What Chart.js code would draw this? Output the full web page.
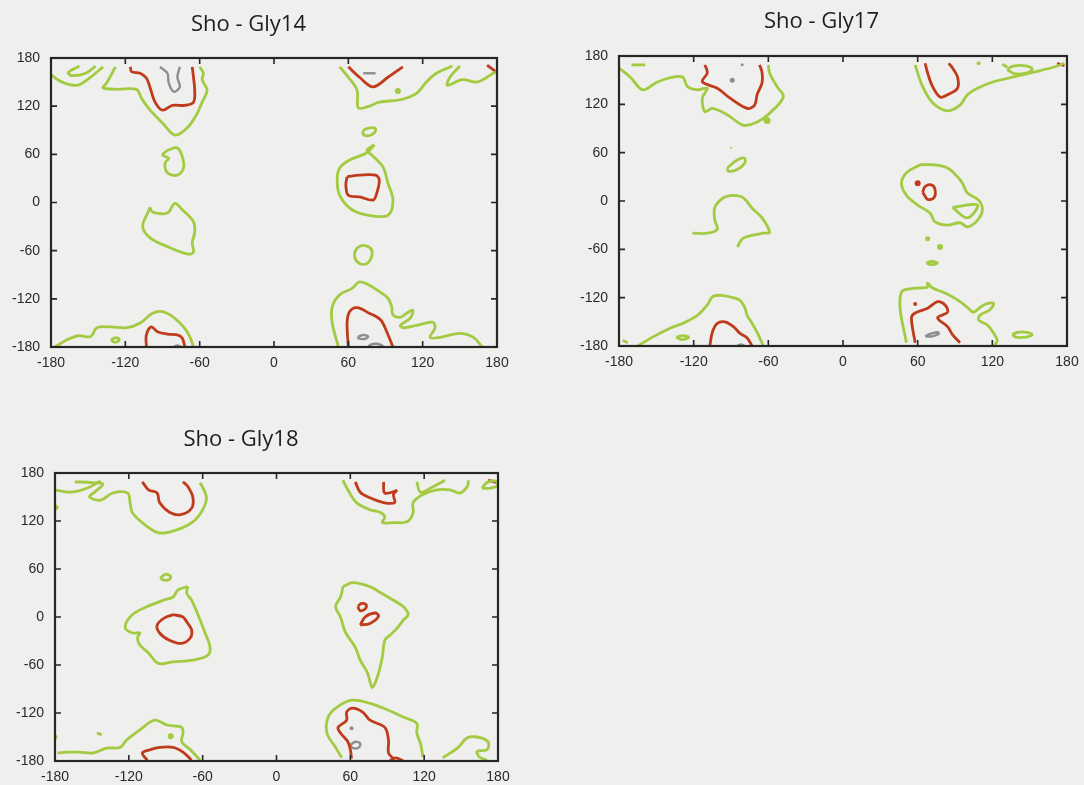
<!DOCTYPE html>
<html>
<head>
<meta charset="utf-8">
<script src="https://cdn.jsdelivr.net/npm/chart.js@4.4.1/dist/chart.umd.min.js"></script>
<style>
  body { margin: 0; background: #efefed; width: 1084px; height: 785px; overflow: hidden; position: relative; }
  canvas { position: absolute; }
</style>
</head>
<body>
<canvas id="c14" width="528" height="380" style="left:0;top:0"></canvas>
<canvas id="c17" width="508" height="380" style="left:576px;top:0"></canvas>
<canvas id="c18" width="532" height="380" style="left:-16px;top:415px"></canvas>
<script>
// axis ticks (phi / psi in degrees)
const tickValues = [-180, -120, -60, 0, 60, 120, 180];

// ---- Sho - Gly14 contours: [phi, psi] ----
const gly14Green = [
  [[-180,159],[-171,150],[-159,146],[-149,155],[-138,169]],
  [[-157,170],[-166,162],[-163,158],[-152,161],[-144,170]],
  [[-128,169],[-135,149],[-138,143],[-127,141],[-111,141],[-107,130],[-100,115],[-90,99],[-80,84],[-70,93],[-62,111],[-58,125],[-54,140],[-58,153],[-57,161],[-60,169]],
  [[-86,65],[-78,68],[-74,57],[-73,43],[-78,34],[-86,37],[-88,49],[-85,55],[-90,59],[-86,65]],
  [[-100,-6],[-98,-12],[-86,-13],[-80,-1],[-74,-9],[-65,-24],[-64,-37],[-66,-50],[-65,-62],[-70,-64],[-86,-55],[-100,-44],[-106,-30],[-102,-13],[-100,-6]],
  [[-177,-180],[-167,-171],[-158,-166],[-148,-167],[-143,-156],[-132,-155],[-119,-156],[-108,-150],[-98,-138],[-90,-136],[-81,-143],[-73,-155],[-68,-167],[-65,-180]],
  [[-128,-168],[-125,-170],[-126,-173],[-129,-174],[-131,-171],[-128,-168]],
  [[53,169],[60,156],[67,140],[68,118],[75,119],[85,125],[102,128],[115,136],[123,150],[131,161],[144,170]],
  [[150,170],[142,156],[140,146],[152,153],[164,150],[172,156],[177,161],[180,163]],
  [[72,90],[77,93],[82,92],[81,87],[76,83],[72,85],[72,90]],
  [[81,72],[75,62],[61,53],[53,43],[51,28],[53,9],[63,-9],[77,-16],[92,-16],[96,3],[92,24],[88,44],[79,59],[75,65],[81,72]],
  [[72,-53],[78,-57],[79,-66],[75,-76],[69,-76],[65,-67],[67,-57],[72,-53]],
  [[52,-180],[47,-150],[47,-130],[53,-115],[63,-107],[69,-99],[77,-103],[86,-112],[92,-119],[95,-130],[96,-140],[102,-143],[107,-138],[112,-134],[110,-144],[102,-153],[104,-156],[115,-153],[128,-149],[130,-156],[126,-168],[134,-168],[150,-163],[161,-168],[168,-180]]
];
const gly14Red = [
  [[-116,169],[-115,163],[-108,161],[-103,155],[-100,143],[-96,125],[-90,115],[-82,121],[-72,121],[-65,125],[-64,140],[-65,156],[-66,169]],
  [[-103,-180],[-103,-165],[-99,-155],[-94,-161],[-86,-164],[-78,-165],[-74,-169],[-72,-180]],
  [[60,169],[69,156],[80,144],[92,156],[104,169]],
  [[172,171],[179,163]],
  [[59,32],[69,34],[82,34],[85,28],[83,12],[80,3],[69,7],[60,9],[58,22],[59,32]],
  [[60,-180],[59,-150],[61,-136],[67,-131],[77,-138],[86,-146],[91,-161],[96,-180]]
];
const gly14Gray = [
  [[-92,169],[-86,161],[-85,149],[-81,138],[-76,144],[-78,156],[-76,169]],
  [[72,161],[82,161]],
  [[-81,-180],[-78,-178],[-75,-180]],
  [[68,-167],[72,-165],[76,-167],[73,-170],[68,-169],[68,-167]],
  [[76,-180],[78,-177],[83,-176],[87,-178],[88,-180]]
];
const gly14Dots = [
  { color: 'green', r: 3, at: [100, 139] }
];

// ---- Sho - Gly17 contours ----
const gly17Green = [
  [[-170,169],[-159,169]],
  [[-180,165],[-171,154],[-161,138],[-150,147],[-139,153],[-129,154],[-125,142],[-117,138],[-109,140],[-113,128],[-111,111],[-105,115],[-93,107],[-80,94],[-69,98],[-59,109],[-48,129],[-53,142],[-59,159],[-60,169]],
  [[-93,41],[-85,51],[-79,53],[-79,47],[-85,39],[-92,37],[-93,41]],
  [[-85,-57],[-80,-46],[-64,-40],[-59,-39],[-65,-21],[-73,-9],[-80,4],[-88,7],[-96,4],[-103,-8],[-103,-24],[-101,-35],[-109,-40],[-121,-40]],
  [[-177,-173],[-173,-176]],
  [[-165,-180],[-153,-169],[-139,-158],[-129,-152],[-117,-142],[-109,-129],[-105,-119],[-99,-117],[-91,-119],[-83,-123],[-79,-132],[-77,-142],[-73,-152],[-69,-163],[-64,-180]],
  [[-134,-169],[-129,-167],[-124,-169],[-129,-172],[-134,-169]],
  [[58,169],[60,159],[64,142],[72,122],[84,112],[94,119],[100,132],[108,140],[121,148],[137,154],[153,160],[169,166],[178,171]],
  [[132,163],[136,167],[145,168],[152,164],[148,159],[138,158],[132,163]],
  [[128,170],[132,166]],
  [[62,45],[51,35],[47,22],[51,7],[60,-5],[70,-15],[74,-26],[84,-30],[94,-27],[100,-32],[108,-24],[112,-11],[109,1],[100,10],[96,22],[92,30],[84,41],[72,45],[62,45]],
  [[88,-8],[108,-5],[100,-21],[88,-8]],
  [[67,-77],[71,-75],[76,-77],[71,-79],[67,-77]],
  [[51,-176],[46,-135],[47,-113],[54,-109],[62,-108],[68,-107],[68,-102],[72,-108],[80,-113],[88,-119],[96,-127],[102,-135],[105,-138],[113,-129],[121,-127],[118,-135],[110,-142],[109,-148],[116,-154],[121,-164],[124,-173],[122,-179]],
  [[136,-166],[140,-163],[148,-163],[152,-166],[147,-169],[139,-169],[136,-166]]
];
const gly17Red = [
  [[-111,169],[-109,159],[-113,148],[-101,140],[-91,128],[-77,115],[-71,119],[-69,132],[-65,147],[-65,159],[-67,169]],
  [[-107,-180],[-105,-163],[-101,-152],[-95,-150],[-88,-156],[-83,-164],[-77,-170],[-73,-180]],
  [[66,171],[68,159],[72,142],[78,129],[84,132],[92,140],[92,154],[88,165],[85,171]],
  [[172,171],[178,168]],
  [[64,11],[66,18],[71,20],[74,14],[73,4],[68,2],[64,11]],
  [[58,-176],[55,-145],[58,-139],[68,-133],[76,-125],[82,-129],[84,-138],[76,-145],[84,-156],[88,-166],[94,-176]]
];
const gly17Gray = [
  [[66,-168],[70,-165],[76,-163],[77,-165],[72,-168],[66,-168]],
  [[-85,-180],[-82,-178],[-79,-180]]
];
const gly17Dots = [
  { color: 'green', r: 3.5, at: [-61, 100] },
  { color: 'green', r: 1, at: [-90, 66] },
  { color: 'gray', r: 2.5, at: [-89, 150] },
  { color: 'gray', r: 1.5, at: [-81, 169] },
  { color: 'green', r: 2, at: [109, 171] },
  { color: 'green', r: 2.5, at: [68, -47] },
  { color: 'green', r: 3, at: [78, -57] },
  { color: 'red', r: 3, at: [60, 22] },
  { color: 'red', r: 2, at: [58, -128] }
];

// ---- Sho - Gly18 contours ----
const gly18Green = [
  [[-180,159],[-168,156],[-154,161],[-143,170]],
  [[-164,169],[-150,168],[-141,166],[-148,156],[-152,150],[-143,146],[-133,155],[-121,155],[-119,143],[-117,130],[-105,113],[-95,105],[-81,109],[-68,119],[-60,134],[-57,150],[-62,168]],
  [[-180,140],[-178,137],[-180,134]],
  [[-90,54],[-86,51],[-87,47],[-91,46],[-94,49],[-90,54]],
  [[-72,38],[-80,34],[-84,25],[-92,21],[-105,13],[-117,3],[-123,-13],[-117,-20],[-111,-20],[-113,-26],[-111,-35],[-104,-45],[-96,-58],[-84,-56],[-68,-54],[-56,-48],[-54,-38],[-58,-20],[-62,-4],[-69,21],[-73,30],[-72,38]],
  [[-178,-170],[-170,-169],[-160,-169],[-149,-170],[-138,-164],[-127,-163],[-122,-154],[-111,-141],[-99,-129],[-89,-135],[-77,-138],[-76,-145],[-77,-156],[-70,-166],[-62,-179]],
  [[-146,-145],[-142,-147]],
  [[54,171],[58,159],[65,143],[76,134],[84,131],[88,125],[86,118],[95,118],[106,119],[111,130],[111,143],[119,153],[130,159],[141,159],[149,155],[155,163],[156,171]],
  [[114,169],[117,156],[125,161],[137,171]],
  [[167,161],[171,168],[178,170],[180,165],[174,161],[167,161]],
  [[54,38],[62,43],[76,38],[84,31],[95,21],[103,13],[107,3],[103,-4],[98,-14],[92,-23],[88,-29],[86,-50],[82,-75],[78,-88],[76,-81],[74,-70],[68,-54],[64,-38],[56,-19],[52,0],[48,13],[52,25],[54,38]],
  [[53,-176],[48,-163],[41,-145],[42,-125],[49,-113],[61,-104],[76,-108],[90,-116],[103,-125],[114,-133],[114,-145],[117,-158],[119,-175]],
  [[135,-176],[147,-164],[155,-151],[163,-150],[172,-156],[171,-166],[163,-168],[165,-175],[171,-179]]
];
const gly18Red = [
  [[-109,169],[-104,159],[-97,155],[-95,143],[-87,131],[-78,128],[-69,136],[-68,150],[-72,163],[-76,169]],
  [[-84,3],[-76,0],[-73,-6],[-69,-16],[-70,-26],[-77,-33],[-87,-29],[-95,-20],[-97,-10],[-91,-1],[-84,3]],
  [[-105,-179],[-109,-170],[-103,-166],[-95,-163],[-84,-163],[-76,-169],[-69,-179]],
  [[64,169],[68,156],[76,149],[87,143],[96,143],[95,153],[98,159]],
  [[87,169],[88,155],[98,158]],
  [[172,171],[179,168]],
  [[66,13],[69,17],[73,15],[72,10],[68,8],[66,13]],
  [[68,-10],[72,0],[80,5],[83,1],[76,-8],[68,-10]],
  [[61,-177],[60,-166],[58,-156],[52,-145],[50,-138],[57,-129],[57,-119],[62,-114],[70,-119],[76,-129],[88,-138],[91,-154],[91,-170],[95,-177]],
  [[92,-180],[97,-176],[103,-180]]
];
const gly18Gray = [
  [[60,-160],[64,-156],[68,-158],[67,-163],[62,-164],[60,-160]]
];
const gly18Dots = [
  { color: 'green', r: 2.5, at: [-180, -150] },
  { color: 'green', r: 3, at: [-86, -149] },
  { color: 'gray', r: 2, at: [61, -139] }
];

const COLORS = { green: '#a3cb42', red: '#c03a1c', gray: '#8e8e92' };

// frame box plus inward tick marks on all four sides
const framePlugin = {
  id: 'frame',
  afterDatasetsDraw(chart) {
    const { ctx, chartArea: a, scales: { x, y } } = chart;
    ctx.save();
    ctx.strokeStyle = '#262626';
    ctx.lineWidth = 2.2;
    ctx.strokeRect(a.left, a.top, a.right - a.left, a.bottom - a.top);
    ctx.lineWidth = 1.6;
    ctx.beginPath();
    tickValues.slice(1, -1).forEach(v => {
      const px = x.getPixelForValue(v);
      ctx.moveTo(px, a.bottom); ctx.lineTo(px, a.bottom - 6);
      ctx.moveTo(px, a.top); ctx.lineTo(px, a.top + 6);
      const py = y.getPixelForValue(v);
      ctx.moveTo(a.left, py); ctx.lineTo(a.left + 6, py);
      ctx.moveTo(a.right, py); ctx.lineTo(a.right - 6, py);
    });
    ctx.stroke();
    ctx.restore();
  }
};

function lineSet(lines, color) {
  return lines.map(pts => ({
    data: pts.map(([x, y]) => ({ x, y })),
    showLine: true,
    borderColor: COLORS[color],
    borderWidth: color === 'gray' ? 2.4 : 2.8,
    pointRadius: 0,
    tension: 0.35,
    fill: false
  }));
}

function dotSet(dots) {
  return dots.map(d => ({
    data: [{ x: d.at[0], y: d.at[1] }],
    showLine: false,
    pointRadius: d.r,
    pointBorderWidth: 0,
    backgroundColor: COLORS[d.color]
  }));
}

function makePanel(id, title, green, red, gray, dots, box) {
  const tickFont = { family: 'Liberation Sans', size: 14 };
  new Chart(document.getElementById(id), {
    type: 'scatter',
    data: {
      datasets: [
        ...lineSet(green, 'green'),
        ...lineSet(red, 'red'),
        ...lineSet(gray, 'gray'),
        ...dotSet(dots)
      ]
    },
    options: {
      responsive: false,
      animation: false,
      devicePixelRatio: 1,
      layout: { padding: { left: 0, right: box.padRight, top: 0, bottom: 0 } },
      plugins: {
        legend: { display: false },
        tooltip: { enabled: false },
        title: {
          display: true,
          text: title,
          color: '#1e1e1e',
          font: { family: 'Open Sans', size: 22, weight: 'normal', lineHeight: 1.2 },
          padding: { top: box.titleTop, bottom: box.titleBottom }
        }
      },
      scales: {
        x: {
          type: 'linear', min: -180, max: 180,
          ticks: { stepSize: 60, color: '#2a2a2a', font: tickFont, padding: 8, maxRotation: 0 },
          grid: { drawOnChartArea: false, drawTicks: false },
          border: { display: false },
          afterFit(s) { s.height = box.xHeight; s.paddingLeft = 0; s.paddingRight = 0; }
        },
        y: {
          type: 'linear', min: -180, max: 180,
          ticks: { stepSize: 60, color: '#2a2a2a', font: tickFont, padding: 11 },
          grid: { drawOnChartArea: false, drawTicks: false },
          border: { display: false },
          afterFit(s) { s.width = box.yWidth; s.paddingTop = 0; s.paddingBottom = 0; }
        }
      }
    },
    plugins: [framePlugin]
  });
}

makePanel('c14', 'Sho - Gly14', gly14Green, gly14Red, gly14Gray, gly14Dots,
  { yWidth: 51, padRight: 31, titleTop: 12, titleBottom: 19.6, xHeight: 33 });
makePanel('c17', 'Sho - Gly17', gly17Green, gly17Red, gly17Gray, gly17Dots,
  { yWidth: 43, padRight: 17, titleTop: 9, titleBottom: 20.6, xHeight: 34 });
makePanel('c18', 'Sho - Gly18', gly18Green, gly18Red, gly18Gray, gly18Dots,
  { yWidth: 71, padRight: 18, titleTop: 12, titleBottom: 19.6, xHeight: 34 });
</script>
</body>
</html>
